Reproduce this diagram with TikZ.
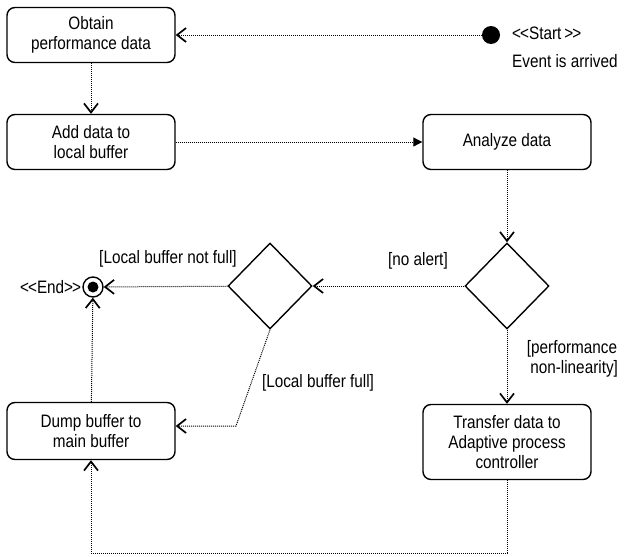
\documentclass[tikz,border=0pt]{standalone}
\usepackage{fontspec}
\setmainfont{Liberation Sans}[FakeStretch=0.85]
\usetikzlibrary{shapes.geometric, arrows.meta, positioning, calc}

\begin{document}
\begin{tikzpicture}[
    x=1pt, y=-1pt,
    font=\fontsize{18}{20}\selectfont,
    activity/.style={rectangle, rounded corners=8pt, draw, line width=1.4pt, minimum width=168pt, minimum height=55pt, align=center, inner sep=2pt},
    decision/.style={diamond, draw, line width=1.4pt, minimum width=84pt, minimum height=86pt, inner sep=0pt},
    flow/.style={densely dotted, line width=1pt, -{Straight Barb[length=9pt, width=14pt, line width=1.7pt]}},
    push/.style={densely dotted, line width=1pt, -{Triangle[length=9pt, width=9pt]}},
    guard/.style={inner sep=1pt, align=center}
]
\useasboundingbox (0,0) rectangle (627,557);

\node[activity] (obtain) at (91,35) {Obtain\\performance data};
\node[activity] (add) at (91,142) {Add data to\\local buffer};
\node[activity] (analyze) at (507,142) {Analyze data};
\node[decision] (alert) at (507,286) {};
\node[decision] (buffer) at (270,286) {};
\node[activity, minimum height=75pt] (transfer) at (507,442) {Transfer data to\\Adaptive process\\controller};
\node[activity, minimum height=57pt] (dump) at (91,431) {Dump buffer to\\main buffer};

\node[circle, fill, minimum size=18pt, inner sep=0pt] (start) at (491,35) {};
\node[anchor=west, align=left, inner sep=0pt] (startlbl) at (512,47) {<\kern-1pt<Start\,>\kern-1pt>\\[8pt]Event is arrived};

\node[circle, draw, line width=1.4pt, minimum size=20pt, inner sep=0pt,
      path picture={\fill (path picture bounding box.center) circle (5.5pt);}] (end) at (93,287) {};
\node[left=1pt of end, inner sep=0pt] (endlbl) {<\kern-1pt<End>\kern-1pt>};

\coordinate (fullbend) at (236,426);
\coordinate (loop) at (0,553);

\draw[flow] (start) -- (obtain);
\draw[flow] (obtain) -- (add);
\draw[push] (add) -- (analyze);
\draw[flow] (analyze) -- (alert);
\draw[flow] (alert) -- (buffer);
\draw[flow] (buffer) -- (end);
\draw[flow] (buffer.south) -- (fullbend) -- (fullbend -| dump.east);
\draw[flow] (alert) -- (transfer);
\draw[flow] (transfer.south) -- (transfer.south |- loop) -| (dump.south);
\draw[flow] (dump) -- (end);

\node[guard] (nofull) at (168,259) {[Local buffer not full]};
\node[guard] (noalert) at (418,261) {[no alert]};
\node[guard] (nonlin) at (572,359) {[performance\\\ non-linearity]};
\node[guard] (full) at (318,383) {[Local buffer full]};

\end{tikzpicture}
\end{document}
